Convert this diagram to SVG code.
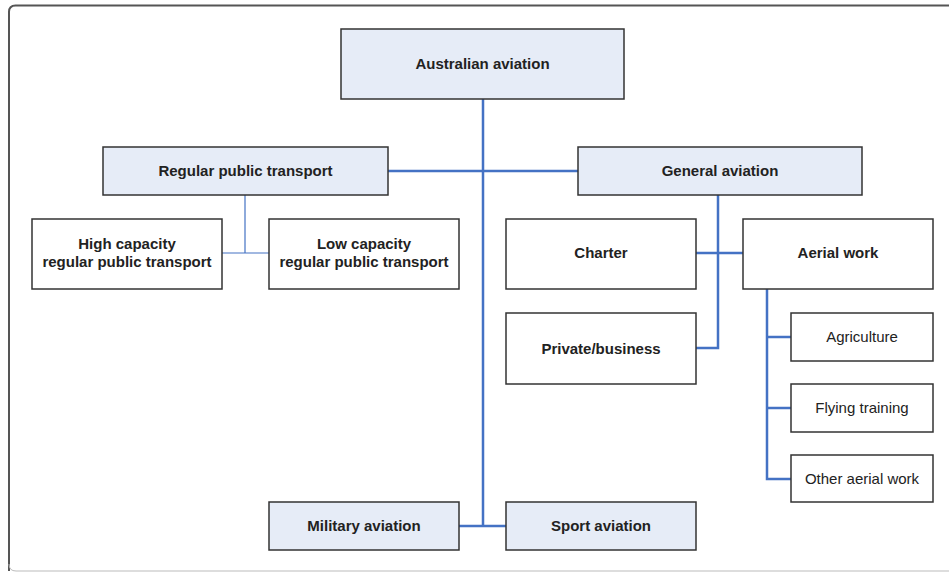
<svg xmlns="http://www.w3.org/2000/svg" width="949" height="572" viewBox="0 0 949 572">
<style>
.frame{fill:#fff;stroke:#555;stroke-width:2}
.blue{fill:#e6ecf7;stroke:#333;stroke-width:1.5}
.white{fill:#fff;stroke:#333;stroke-width:1.5}
.t{font-family:"Liberation Sans",Arial,sans-serif;font-size:15px;fill:#222;text-anchor:middle}
.b{font-weight:bold}
.c{fill:none;stroke:#4472c4;stroke-width:2.5}
.c1{fill:none;stroke:#4472c4;stroke-width:1.2}
</style>
<rect x="0" y="0" width="949" height="572" fill="#fff"/>
<path class="frame" d="M9 571 V12 Q9 5.5 15.5 5.5 H960" />
<path d="M9 564 Q9 571 16 571 H960" fill="none" stroke="#bbb" stroke-width="1"/>
<g id="connectors">
<path class="c" d="M483 99 V526"/>
<path class="c" d="M388 171 H578"/>
<path class="c" d="M459 526 H506"/>
<path class="c1" d="M245 195 V253 M222 253 H269"/>
<path class="c" d="M718 195 V348 H696"/>
<path class="c" d="M696 253 H743"/>
<path class="c" d="M767 289 V479 H791"/>
<path class="c" d="M767 337 H791"/>
<path class="c" d="M767 408 H791"/>
</g>
<g id="australian"><rect class="blue" x="341" y="29" width="283" height="70"/><text class="t b" x="482.5" y="69">Australian aviation</text></g>
<g id="rpt"><rect class="blue" x="103" y="147" width="285" height="48"/><text class="t b" x="245.5" y="176">Regular public transport</text></g>
<g id="ga"><rect class="blue" x="578" y="147" width="284" height="48"/><text class="t b" x="720" y="176">General aviation</text></g>
<g id="high"><rect class="white" x="32" y="219" width="190" height="70"/><text class="t b" x="127" y="249">High capacity</text><text class="t b" x="127" y="267">regular public transport</text></g>
<g id="low"><rect class="white" x="269" y="219" width="190" height="70"/><text class="t b" x="364" y="249">Low capacity</text><text class="t b" x="364" y="267">regular public transport</text></g>
<g id="charter"><rect class="white" x="506" y="219" width="190" height="70"/><text class="t b" x="601" y="258">Charter</text></g>
<g id="aerial"><rect class="white" x="743" y="219" width="190" height="70"/><text class="t b" x="838" y="258">Aerial work</text></g>
<g id="private"><rect class="white" x="506" y="313" width="190" height="71"/><text class="t b" x="601" y="354">Private/business</text></g>
<g id="agriculture"><rect class="white" x="791" y="313" width="142" height="48"/><text class="t" x="862" y="342">Agriculture</text></g>
<g id="flying"><rect class="white" x="791" y="384" width="142" height="48"/><text class="t" x="862" y="413">Flying training</text></g>
<g id="other"><rect class="white" x="791" y="455" width="142" height="47"/><text class="t" x="862" y="484">Other aerial work</text></g>
<g id="military"><rect class="blue" x="269" y="502" width="190" height="48"/><text class="t b" x="364" y="531">Military aviation</text></g>
<g id="sport"><rect class="blue" x="506" y="502" width="190" height="48"/><text class="t b" x="601" y="531">Sport aviation</text></g>
</svg>
